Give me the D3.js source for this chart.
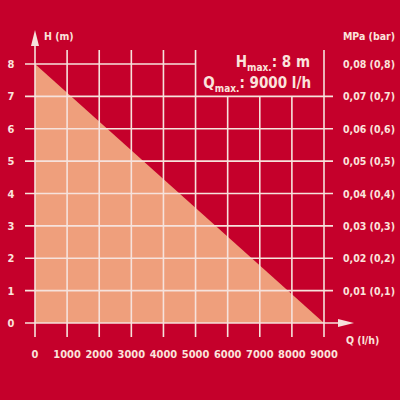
<!DOCTYPE html>
<html><head><meta charset="utf-8">
<script src="https://cdn.jsdelivr.net/npm/d3@7"></script>
<style>
body{margin:0;background:#c5002b;}
text{font-family:"DejaVu Sans Condensed","DejaVu Sans",sans-serif;font-weight:bold;fill:#fbe3dc;}
</style></head><body>
<div id="chart"></div>
<script>
// Data
var flowTicks = [0, 1000, 2000, 3000, 4000, 5000, 6000, 7000, 8000, 9000];
var headTicks = [0, 1, 2, 3, 4, 5, 6, 7, 8];
var pressureLabels = ["", "0,01 (0,1)", "0,02 (0,2)", "0,03 (0,3)", "0,04 (0,4)", "0,05 (0,5)", "0,06 (0,6)", "0,07 (0,7)", "0,08 (0,8)"];
var curveQ = [0, 9000];
var curveH = [8, 0];

var width = 400, height = 400;
var line = "#f6e2dc";
var svg = d3.select("#chart").append("svg").attr("width", width).attr("height", height);
svg.append("rect").attr("width", width).attr("height", height).attr("fill", "#c5002b");

var x = d3.scaleLinear().domain([0, 9000]).range([35, 324]);
var y = d3.scaleLinear().domain([0, 8]).range([323, 64]);

// Area under curve
var pts = curveQ.map(function(q, i){ return [q, curveH[i]]; });
var area = d3.area().x(function(d){ return x(d[0]); }).y0(y(0)).y1(function(d){ return y(d[1]); });
svg.append("path").datum(pts).attr("d", area).attr("fill", "#ef9f7c");

// Grid
var g = svg.append("g").attr("stroke", line).attr("stroke-width", 1.6);
flowTicks.forEach(function(q){
    if (q === 0) return;
    var top = (q > 5000 && q < 9000) ? y(7) : 50;
    g.append("line").attr("x1", x(q)).attr("x2", x(q)).attr("y1", top).attr("y2", 337);
});
headTicks.forEach(function(h){
    if (h === 0) return;
    var right = h === 8 ? x(5000) : 333;
    g.append("line").attr("x1", 25).attr("x2", right).attr("y1", y(h)).attr("y2", y(h));
});
// Axes with arrows
g.append("line").attr("x1", x(0)).attr("x2", x(0)).attr("y1", 42).attr("y2", 337);
g.append("line").attr("x1", 25).attr("x2", 340).attr("y1", y(0)).attr("y2", y(0));
svg.append("path").attr("d", "M" + (x(0)-4) + ",46L" + x(0) + ",30L" + (x(0)+4) + ",46Z").attr("fill", line);
svg.append("path").attr("d", "M338," + (y(0)-4) + "L354," + y(0) + "L338," + (y(0)+4) + "Z").attr("fill", line);

// Tick labels
svg.selectAll(".xl").data(flowTicks).enter().append("text")
    .attr("x", function(d){ return x(d); }).attr("y", 358)
    .attr("text-anchor", "middle").attr("font-size", 11).text(function(d){ return d; });
svg.selectAll(".yl").data(headTicks).enter().append("text")
    .attr("x", 11).attr("y", function(d){ return y(d) + 4; })
    .attr("text-anchor", "middle").attr("font-size", 11).text(function(d){ return d; });
svg.selectAll(".pl").data(headTicks).enter().append("text")
    .attr("x", 369).attr("y", function(d){ return y(d) + 4; })
    .attr("text-anchor", "middle").attr("font-size", 10.5).text(function(d){ return pressureLabels[d]; });

// Axis titles
svg.append("text").attr("x", 44).attr("y", 40).attr("font-size", 10.5).text("H (m)");
svg.append("text").attr("x", 346).attr("y", 344).attr("font-size", 10.5).text("Q (l/h)");
svg.append("text").attr("x", 369).attr("y", 40).attr("text-anchor", "middle").attr("font-size", 10.5).text("MPa (bar)");

// Max values
var t1 = svg.append("text").attr("x", 310).attr("y", 67).attr("text-anchor", "end").attr("font-size", 15);
t1.append("tspan").text("H");
t1.append("tspan").attr("font-size", 10).attr("dy", 4).text("max.");
t1.append("tspan").attr("dy", -4).text(": 8 m");
var t2 = svg.append("text").attr("x", 311).attr("y", 88).attr("text-anchor", "end").attr("font-size", 15);
t2.append("tspan").text("Q");
t2.append("tspan").attr("font-size", 10).attr("dy", 4).text("max.");
t2.append("tspan").attr("dy", -4).text(": 9000 l/h");
</script>
</body></html>
